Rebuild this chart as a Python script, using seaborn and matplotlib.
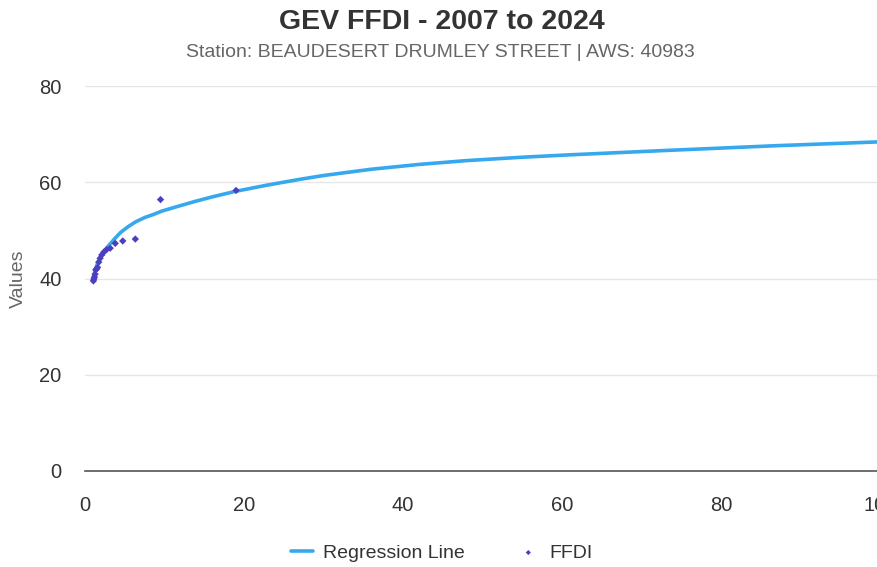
import matplotlib
matplotlib.use("Agg")
import matplotlib.pyplot as plt
import seaborn as sns
import pandas as pd

sns.set_style("white")
plt.rcParams['font.family'] = ['Liberation Sans', 'DejaVu Sans']

# return period (years) and FFDI of the annual maxima
ffdi_period = [19.0, 9.5, 6.33, 4.75, 3.8, 3.17, 2.71, 2.375, 2.11,
               1.9, 1.73, 1.58, 1.46, 1.36, 1.27, 1.19, 1.12, 1.056]
ffdi_value = [58.3, 56.4, 48.2, 47.8, 47.3, 46.3, 46.0, 45.5, 44.9,
              44.2, 43.4, 42.3, 42.0, 41.8, 40.9, 40.3, 39.9, 39.5]

# regression line
reg_period = [1.0, 1.15, 1.3, 1.5, 1.7, 2.1, 2.9, 3.8, 4.5, 5.45, 6.4, 7.55,
              8.6, 9.65, 11.7, 13.8, 16.1, 18.9, 22.9, 27.0, 30.0, 36.0,
              42.0, 48.0, 55.0, 61.0, 73.0, 87.0, 100.0]
reg_value = [39.5, 40.8, 41.8, 42.8, 43.6, 44.9, 46.7, 48.4, 49.6, 50.8, 51.8, 52.7,
             53.3, 54.0, 55.0, 56.0, 57.0, 58.1, 59.4, 60.6, 61.4, 62.7,
             63.7, 64.5, 65.2, 65.7, 66.6, 67.6, 68.4]

pts = pd.DataFrame({"period": ffdi_period, "value": ffdi_value})
reg = pd.DataFrame({"period": reg_period, "value": reg_value})

fig = plt.figure(figsize=(8.78, 5.67), dpi=100)
ax = fig.add_axes([85 / 878, 96 / 567, 795 / 878, 385 / 567])

sns.lineplot(data=reg, x="period", y="value", ax=ax, color="#36a9ee",
             linewidth=2.6, label="Regression Line")
sns.scatterplot(data=pts, x="period", y="value", ax=ax, color="#4a3fc0",
                marker="D", s=14, edgecolor="none", label="FFDI", zorder=3)

ax.set_xlim(0, 100)
ax.set_ylim(0, 80)
ax.set_xticks([0, 20, 40, 60, 80, 100])
ax.set_yticks([0, 20, 40, 60, 80])
ax.yaxis.grid(True, color="#e6e6e6", linewidth=1)
ax.set_axisbelow(True)
for s in ["top", "right", "left"]:
    ax.spines[s].set_visible(False)
ax.spines["bottom"].set_color("#555555")
ax.spines["bottom"].set_linewidth(1.2)
ax.tick_params(axis="x", length=10, width=1.2, color="#555555",
               labelsize=14.5, labelcolor="#333333", pad=8)
ax.tick_params(axis="y", length=0, labelsize=14.5, labelcolor="#333333", pad=17)
ax.set_xlabel("")
ax.set_ylabel("Values", fontsize=14, color="#666666", labelpad=9)

fig.text(0.503, 0.962, "GEV FFDI - 2007 to 2024", ha="center", va="center",
         fontsize=20.5, fontweight="bold", color="#333333")
fig.text(0.502, 0.908, "Station: BEAUDESERT DRUMLEY STREET | AWS: 40983",
         ha="center", va="center", fontsize=14, color="#666666")

handles, labels = ax.get_legend_handles_labels()
ax.get_legend().remove()
fig.legend(handles, labels, loc="center", bbox_to_anchor=(0.503, 0.025),
           ncol=2, frameon=False, fontsize=14, columnspacing=2.7,
           handlelength=1.15, handletextpad=0.5, markerscale=0.7,
           labelcolor="#333333")

fig.savefig("out.png", dpi=100)
